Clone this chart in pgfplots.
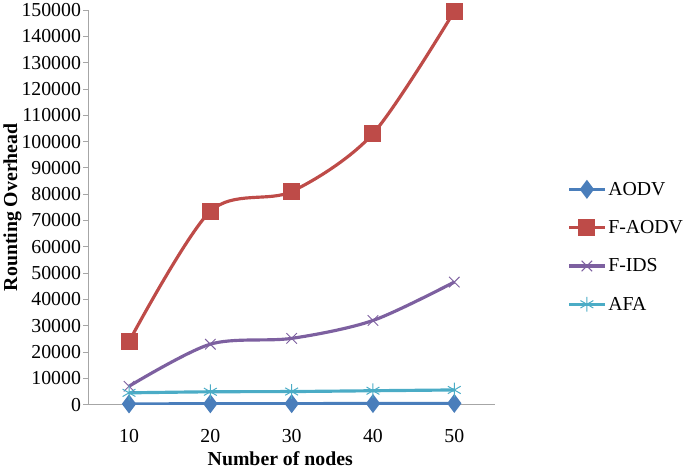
\documentclass[border=0pt]{standalone}
\usepackage{fontspec}
\setmainfont{Liberation Serif}
\usepackage{pgfplots}
\pgfplotsset{compat=1.18}
\definecolor{cAodv}{HTML}{4A7EBB}
\definecolor{cFaodv}{HTML}{BE4B48}
\definecolor{cFids}{HTML}{7D60A0}
\definecolor{cAfa}{HTML}{4BACC6}
\definecolor{axGray}{HTML}{A6A6A6}

\begin{document}
\begin{tikzpicture}
\begin{axis}[
  scale only axis,
  width=411pt, height=399pt,
  font=\fontsize{20}{22}\selectfont,
  /pgf/number format/assume math mode=true,
  /pgf/number format/fixed,
  /pgf/number format/precision=0,
  /pgf/number format/1000 sep={},
  xmin=5, xmax=55, ymin=0, ymax=150000,
  xtick={10,20,30,40,50},
  ytick={0,10000,...,150000},
  scaled y ticks=false,
  axis x line*=bottom, axis y line*=left,
  axis line style={axGray, line width=0.8pt},
  x axis line style={-}, y axis line style={-},
  xtick style={draw=none},
  ytick style={axGray, line width=0.8pt},
  tick align=outside, major tick length=5pt,
  yticklabel style={xshift=1pt},
  xticklabel style={yshift=-16pt},
  xlabel={\textbf{Number of nodes}},
  ylabel={\textbf{Rounting Overhead}},
  xlabel style={at={(axis description cs:0.472,-0.136)}, anchor=center},
  ylabel style={at={(axis description cs:-0.187,0.5)}, anchor=center},
  every axis plot/.append style={line width=3.2pt, smooth, tension=0.5},
  legend style={at={(axis description cs:1.178,0.40)}, anchor=west, draw=none,
                fill=none, row sep=20pt, inner sep=0pt,
                font=\fontsize{20}{22}\selectfont},
  legend cell align=left,
  legend image code/.code={%
    \draw[#1, mark repeat=2, mark phase=2] plot coordinates {(0pt,0pt) (18pt,0pt) (36pt,0pt)};},
]
\addplot[cAodv, mark=diamond*, mark size=7pt, mark options={solid, fill=cAodv}]
  coordinates {(10,300)(20,350)(30,400)(40,450)(50,500)};
\addlegendentry{AODV}
\addplot[cFaodv, mark=square*, mark size=7pt, mark options={solid, fill=cFaodv}]
  coordinates {(10,24000)(20,73500)(30,81000)(40,103000)(50,149500)};
\addlegendentry{F-AODV}
\addplot[cFids, mark=x, mark size=7.5pt, mark options={line width=1pt}]
  coordinates {(10,7000)(20,23000)(30,25200)(40,32000)(50,46600)};
\addlegendentry{F-IDS}
\addplot[cAfa, mark=asterisk, mark size=7.5pt, mark options={line width=1pt}]
  coordinates {(10,4500)(20,4900)(30,5000)(40,5300)(50,5600)};
\addlegendentry{AFA}
\end{axis}
\end{tikzpicture}
\end{document}
